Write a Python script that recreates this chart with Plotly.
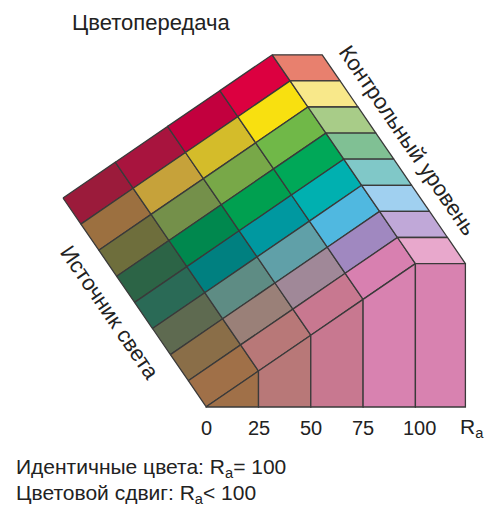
import plotly.graph_objects as go

# colours, rows top->bottom, columns left (shifted) -> right (reference)
rows = ["red", "yellow", "green", "green2", "teal", "blue", "violet", "pink"]
colors = [
    ["#9B1B3B", "#A8143E", "#C2003E", "#DC0040", "#E8806E"],
    ["#9C7040", "#C6A23A", "#D4BC2A", "#F8E010", "#F8E88A"],
    ["#6E6E3C", "#74904A", "#78A848", "#70B848", "#A8CC88"],
    ["#2C6446", "#00884E", "#00A050", "#00A858", "#80C094"],
    ["#2A6A56", "#008080", "#0098A0", "#00B0B0", "#80C8C8"],
    ["#5E6A50", "#5E8C84", "#60A0A8", "#50B8E0", "#A0D0F0"],
    ["#8A6E48", "#9A8078", "#A08898", "#A088C0", "#C0A8D8"],
    ["#A07048", "#B87878", "#C87890", "#D880B0", "#E8A8CC"],
]
front = ["#A07048", "#B87878", "#C87890", "#D882B0", "#D882B0"]
tick_labels = ["0", "25", "50", "75", "100"]

# geometry of the folded grid
origin = (63, 198)
col_step = (52.3, -35.8)
flat_step = 50.0
row_step = (17.9, 26.1)
floor_y = 407

def top(j):
    if j <= 4:
        return (origin[0] + j * col_step[0], origin[1] + j * col_step[1])
    t = top(4)
    return (t[0] + (j - 4) * flat_step, t[1])

def pt(j, i):
    t = top(j)
    return (t[0] + i * row_step[0], t[1] + i * row_step[1])

fig = go.Figure()
edge = dict(color="#3a3a3a", width=1.3)

def cell(poly, fill):
    xs = [p[0] for p in poly] + [poly[0][0]]
    ys = [p[1] for p in poly] + [poly[0][1]]
    fig.add_trace(go.Scatter(x=xs, y=ys, mode="lines", fill="toself",
                             fillcolor=fill, line=edge, hoverinfo="skip"))

for i in range(len(rows)):
    for j in range(5):
        cell([pt(j, i), pt(j + 1, i), pt(j + 1, i + 1), pt(j, i + 1)], colors[i][j])

for j in range(5):
    a, b = pt(j, 8), pt(j + 1, 8)
    cell([a, b, (b[0], floor_y), (a[0], floor_y)], front[j])

ann = []
for j, lab in enumerate(tick_labels):
    ann.append(dict(x=pt(j, 8)[0] + (4 if j == 4 else 0), y=428, text=lab,
                    showarrow=False, font=dict(size=20)))
ann.append(dict(x=472, y=428, text="R<sub>a</sub>", showarrow=False, font=dict(size=21)))
ann.append(dict(x=70, y=22, text="Цветопередача", showarrow=False, xanchor="left",
                font=dict(size=22)))
ann.append(dict(x=408, y=140, text="Контрольный уровень", showarrow=False,
                textangle=55.6, font=dict(size=22)))
ann.append(dict(x=110, y=312, text="Источник света", showarrow=False,
                textangle=55.6, font=dict(size=22)))
ann.append(dict(x=14, y=468, text="Идентичные цвета: R<sub>a</sub>= 100", showarrow=False,
                xanchor="left", font=dict(size=21)))
ann.append(dict(x=14, y=494, text="Цветовой сдвиг: R<sub>a</sub>< 100", showarrow=False,
                xanchor="left", font=dict(size=21)))

# page body has an 8px margin, so shift the data window to compensate
fig.update_layout(
    width=500, height=527, margin=dict(l=0, r=0, t=0, b=0),
    plot_bgcolor="white", paper_bgcolor="white", showlegend=False,
    font=dict(family="Liberation Sans, Arial, sans-serif", color="#222"),
    xaxis=dict(range=[8, 508], visible=False, fixedrange=True),
    yaxis=dict(range=[535, 8], visible=False, fixedrange=True),
    annotations=ann,
)

fig.write_html("out.html")
